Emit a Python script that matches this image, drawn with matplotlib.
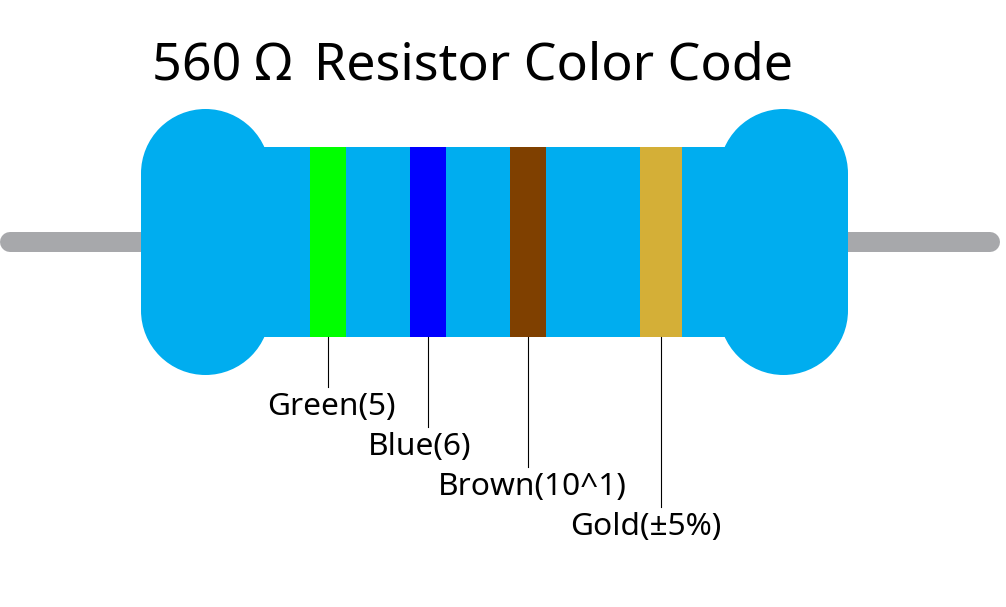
import matplotlib
matplotlib.use("Agg")
import matplotlib.pyplot as plt
from matplotlib.patches import Circle, Rectangle

# everything in pixels, y grows downward
band_names = ['Green(5)', 'Blue(6)', 'Brown(10^1)', 'Gold(±5%)']
band_colors = ['#00FF00', '#0000FF', '#7F4000', '#D4AF37']
band_left = [310, 410, 510, 640]
band_right = [346, 446, 546, 682]
leader_x = [328, 428, 528, 661]
leader_end = [387, 427, 467, 507]
label_x = [267.5, 367.5, 437.5, 570.5]

BODY = '#00ADEF'
LEAD = '#A7A8AB'
CAP_R = 64.5

plt.rcParams['font.family'] = ['Noto Sans', 'DejaVu Sans']

fig = plt.figure(figsize=(10.06, 6.07), dpi=100)
ax = fig.add_axes([0, 0, 1, 1])
ax.set_xlim(0, 1006)
ax.set_ylim(607, 0)
ax.axis('off')

# wire, 20 px thick with round ends
ax.plot([10, 990], [242, 242], color=LEAD, lw=20 * 72 / 100, solid_capstyle='round', zorder=1)

# end caps: two circles joined by a rectangle
for left in [141, 719]:
    cx = left + CAP_R
    ax.add_patch(Circle((cx, 109 + CAP_R), CAP_R, fc=BODY, ec='none', zorder=2))
    ax.add_patch(Circle((cx, 375 - CAP_R), CAP_R, fc=BODY, ec='none', zorder=2))
    ax.add_patch(Rectangle((left, 109 + CAP_R), 2 * CAP_R, 266 - 2 * CAP_R, fc=BODY, ec='none', zorder=2))
ax.add_patch(Rectangle((240, 147), 510, 190, fc=BODY, ec='none', zorder=2))

# colour bands
widths = [r - l for l, r in zip(band_left, band_right)]
ax.bar(band_left, [190] * 4, width=widths, bottom=147, align='edge',
       color=band_colors, zorder=3)

# leader lines and labels
for x, end, lx, name in zip(leader_x, leader_end, label_x, band_names):
    ax.plot([x, x], [337, end], color='black', lw=0.8, zorder=4)
    ax.text(lx, end + 28, name, fontsize=22.8, color='black', ha='left', va='baseline')

# thin space widens the gap after the omega, as in the original font
ax.text(152, 80, '560 Ω\u2009 Resistor Color Code', fontsize=37.4, color='black',
        ha='left', va='baseline')

fig.savefig('out.png', dpi=100)
